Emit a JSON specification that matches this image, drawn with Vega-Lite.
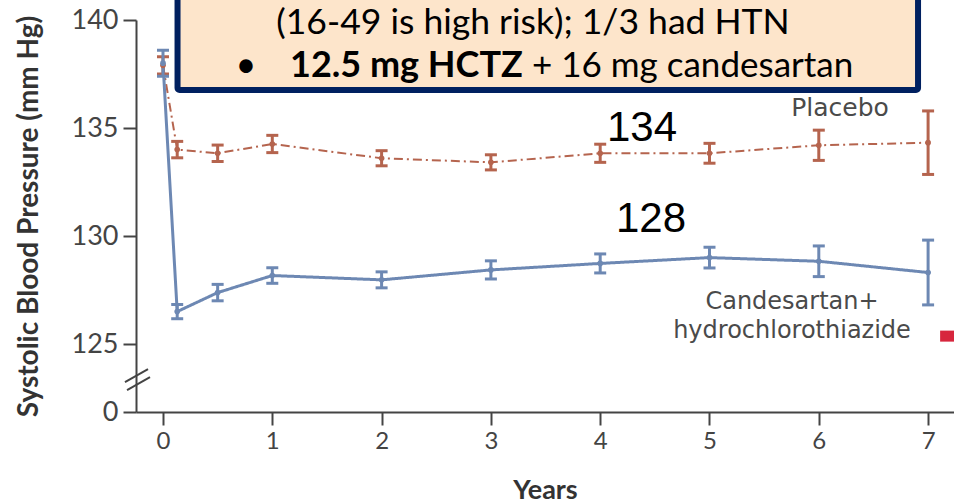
{
  "$schema": "https://vega.github.io/schema/vega-lite/v6.json",
  "width": 818,
  "height": 392,
  "autosize": {"type": "none"},
  "padding": {"left": 136, "top": 20, "right": 0, "bottom": 91},
  "background": "white",
  "data": {
    "values": [
      {"group": "Placebo", "year": 0, "sbp": 137.9, "lo": 137.5, "hi": 138.3},
      {"group": "Placebo", "year": 0.13, "sbp": 134.0, "lo": 133.62, "hi": 134.38},
      {"group": "Placebo", "year": 0.5, "sbp": 133.83, "lo": 133.45, "hi": 134.21},
      {"group": "Placebo", "year": 1, "sbp": 134.26, "lo": 133.86, "hi": 134.66},
      {"group": "Placebo", "year": 2, "sbp": 133.6, "lo": 133.25, "hi": 133.95},
      {"group": "Placebo", "year": 3, "sbp": 133.41, "lo": 133.06, "hi": 133.76},
      {"group": "Placebo", "year": 4, "sbp": 133.83, "lo": 133.41, "hi": 134.25},
      {"group": "Placebo", "year": 5, "sbp": 133.83, "lo": 133.37, "hi": 134.29},
      {"group": "Placebo", "year": 6, "sbp": 134.2, "lo": 133.5, "hi": 134.9},
      {"group": "Placebo", "year": 7, "sbp": 134.32, "lo": 132.85, "hi": 135.79},
      {"group": "Candesartan+hydrochlorothiazide", "year": 0, "sbp": 138.0, "lo": 137.4, "hi": 138.6},
      {"group": "Candesartan+hydrochlorothiazide", "year": 0.13, "sbp": 126.5, "lo": 126.17, "hi": 126.83},
      {"group": "Candesartan+hydrochlorothiazide", "year": 0.5, "sbp": 127.38, "lo": 127.0, "hi": 127.76},
      {"group": "Candesartan+hydrochlorothiazide", "year": 1, "sbp": 128.17, "lo": 127.81, "hi": 128.53},
      {"group": "Candesartan+hydrochlorothiazide", "year": 2, "sbp": 127.97, "lo": 127.6, "hi": 128.34},
      {"group": "Candesartan+hydrochlorothiazide", "year": 3, "sbp": 128.43, "lo": 128.01, "hi": 128.85},
      {"group": "Candesartan+hydrochlorothiazide", "year": 4, "sbp": 128.73, "lo": 128.29, "hi": 129.17},
      {"group": "Candesartan+hydrochlorothiazide", "year": 5, "sbp": 129.0, "lo": 128.52, "hi": 129.48},
      {"group": "Candesartan+hydrochlorothiazide", "year": 6, "sbp": 128.83, "lo": 128.12, "hi": 129.54},
      {"group": "Candesartan+hydrochlorothiazide", "year": 7, "sbp": 128.31, "lo": 126.81, "hi": 129.81}
    ]
  },
  "encoding": {
    "x": {
      "field": "year",
      "type": "quantitative",
      "scale": {"domain": [-0.247, 7.237], "nice": false, "zero": false},
      "axis": {
        "title": "Years",
        "values": [0, 1, 2, 3, 4, 5, 6, 7],
        "format": "d",
        "labelFontSize": 24,
        "labelPadding": 4,
        "titleFontSize": 27,
        "titleY": 78,
        "titleBaseline": "middle"
      }
    },
    "y": {
      "field": "sbp",
      "type": "quantitative",
      "scale": {"domain": [121.852, 140], "nice": false, "zero": false},
      "axis": {
        "title": "Systolic Blood Pressure (mm Hg)",
        "values": [121.852, 125, 130, 135, 140],
        "format": "d",
        "labelExpr": "datum.value < 123 ? '0' : datum.label",
        "labelFontSize": 27,
        "labelPadding": 5,
        "titleFontSize": 28,
        "titleX": -107,
        "titleY": 196,
        "titleBaseline": "middle"
      }
    },
    "color": {
      "field": "group",
      "type": "nominal",
      "scale": {"domain": ["Placebo", "Candesartan+hydrochlorothiazide"], "range": ["#B5644E", "#6D88B3"]},
      "legend": null
    }
  },
  "layer": [
    {
      "mark": {"type": "line"},
      "encoding": {
        "strokeDash": {
          "field": "group",
          "type": "nominal",
          "scale": {"domain": ["Placebo", "Candesartan+hydrochlorothiazide"], "range": [[9, 4, 2, 4], [1, 0]]},
          "legend": null
        },
        "strokeWidth": {
          "field": "group",
          "type": "nominal",
          "scale": {"domain": ["Placebo", "Candesartan+hydrochlorothiazide"], "range": [2, 3]},
          "legend": null
        }
      }
    },
    {
      "mark": {
        "type": "errorbar",
        "thickness": 3,
        "rule": {"strokeWidth": 3, "opacity": 1},
        "ticks": {"size": 12, "thickness": 3, "opacity": 1}
      },
      "encoding": {
        "y": {"field": "lo", "type": "quantitative"},
        "y2": {"field": "hi"}
      }
    },
    {
      "mark": {"type": "point", "filled": true, "opacity": 1, "size": 32}
    },
    {
      "transform": [{"filter": "datum.year == 0 && datum.group == 'Placebo'"}],
      "layer": [
        {
          "mark": {"type": "rule", "stroke": "#444", "strokeWidth": 2},
          "encoding": {
            "x": {"datum": -0.348},
            "x2": {"datum": -0.137},
            "y": {"datum": 123.24},
            "y2": {"datum": 123.84},
            "color": null
          }
        },
        {
          "mark": {"type": "rule", "stroke": "#444", "strokeWidth": 2},
          "encoding": {
            "x": {"datum": -0.329},
            "x2": {"datum": -0.119},
            "y": {"datum": 122.87},
            "y2": {"datum": 123.47},
            "color": null
          }
        },
        {
          "mark": {"type": "text", "text": "Placebo", "font": "DejaVu Sans", "fontSize": 25, "fill": "#4a4a4a", "align": "center", "baseline": "alphabetic"},
          "encoding": {"x": {"datum": 6.194}, "y": {"datum": 135.56}, "color": null}
        },
        {
          "mark": {"type": "text", "text": "Candesartan+", "font": "DejaVu Sans", "fontSize": 24, "fill": "#4a4a4a", "align": "center", "baseline": "alphabetic"},
          "encoding": {"x": {"datum": 5.755}, "y": {"datum": 126.62}, "color": null}
        },
        {
          "mark": {"type": "text", "text": "hydrochlorothiazide", "font": "DejaVu Sans", "fontSize": 24, "fill": "#4a4a4a", "align": "center", "baseline": "alphabetic"},
          "encoding": {"x": {"datum": 5.755}, "y": {"datum": 125.28}, "color": null}
        },
        {
          "mark": {"type": "rect", "fill": "#D7263D"},
          "encoding": {"x": {"datum": 7.11}, "x2": {"datum": 7.237}, "y": {"datum": 125.11}, "y2": {"datum": 125.62}, "color": null}
        },
        {
          "mark": {"type": "text", "text": "134", "font": "Liberation Sans", "fontSize": 42, "fill": "#000000", "align": "center", "baseline": "alphabetic"},
          "encoding": {"x": {"datum": 4.382}, "y": {"datum": 134.4}, "color": null}
        },
        {
          "mark": {"type": "text", "text": "128", "font": "Liberation Sans", "fontSize": 42, "fill": "#000000", "align": "center", "baseline": "alphabetic"},
          "encoding": {"x": {"datum": 4.465}, "y": {"datum": 130.19}, "color": null}
        },
        {
          "mark": {"type": "rect", "fill": "#FDE5CB", "stroke": "#002060", "strokeWidth": 6, "cornerRadius": 2},
          "encoding": {"x": {"datum": 0.133}, "x2": {"datum": 6.908}, "y": {"datum": 136.76}, "y2": {"datum": 141.9}, "color": null}
        },
        {
          "mark": {"type": "text", "text": "(16-49 is high risk); 1/3 had HTN", "font": "Lato", "fontSize": 35.5, "fill": "#000000", "align": "center", "baseline": "alphabetic"},
          "encoding": {"x": {"datum": 3.385}, "y": {"datum": 139.35}, "color": null}
        },
        {
          "mark": {"type": "text", "text": "•", "font": "Lato", "fontSize": 36, "fill": "#000000", "align": "center", "baseline": "alphabetic"},
          "encoding": {"x": {"datum": 0.759}, "y": {"datum": 137.36}, "color": null}
        },
        {
          "mark": {"type": "text", "text": "12.5 mg HCTZ", "font": "Lato", "fontSize": 36, "fontWeight": "bold", "fill": "#000000", "align": "left", "baseline": "alphabetic"},
          "encoding": {"x": {"datum": 1.162}, "y": {"datum": 137.36}, "color": null}
        },
        {
          "mark": {"type": "text", "text": "+ 16 mg candesartan", "font": "Lato", "fontSize": 35, "fill": "#000000", "align": "left", "baseline": "alphabetic"},
          "encoding": {"x": {"datum": 3.376}, "y": {"datum": 137.36}, "color": null}
        }
      ]
    }
  ],
  "config": {
    "view": {"stroke": null},
    "font": "Lato",
    "axis": {
      "grid": false,
      "domainColor": "#444444",
      "domainWidth": 2,
      "tickColor": "#444444",
      "tickWidth": 2,
      "tickSize": 13,
      "labelColor": "#444444",
      "labelFont": "Lato",
      "titleFont": "Lato",
      "titleFontWeight": "bold",
      "titleColor": "#333333"
    }
  }
}
